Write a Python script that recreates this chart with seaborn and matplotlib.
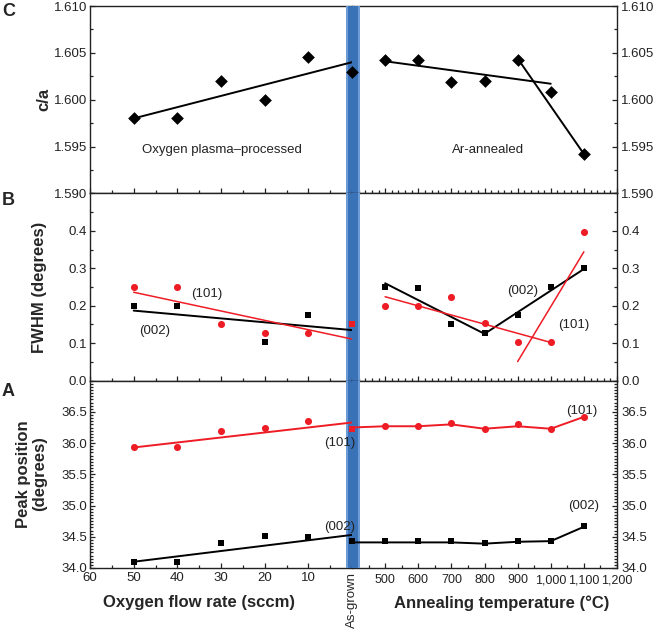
import matplotlib
matplotlib.use("Agg")
import matplotlib.pyplot as plt
from matplotlib.ticker import MultipleLocator, FuncFormatter
import seaborn as sns

# x values
flow = [50, 40, 30, 20, 10]
temp = [500, 600, 700, 800, 900, 1000, 1100]
asgrown_t = [400]   # as-grown sample sits at the junction of both scales

# panel C: c/a
ca_flow = [1.5980, 1.5980, 1.6020, 1.6000, 1.6046]
ca_temp = [1.6042, 1.6042, 1.6019, 1.6020, 1.6042, 1.6008, 1.5942]
ca_asgrown = [1.6030]
ca_fit_flow_x, ca_fit_flow_y = [50, 0], [1.5980, 1.6040]
ca_fit_t1_x, ca_fit_t1_y = [500, 1000], [1.6041, 1.6017]
ca_fit_t2_x, ca_fit_t2_y = [900, 1100], [1.6044, 1.5942]

# panel B: FWHM
fw002_flow_x = [50, 40, 20, 10]
fw002_flow = [0.200, 0.200, 0.102, 0.175]
fw101_flow = [0.250, 0.250, 0.150, 0.128, 0.128]
fw002_temp = [0.249, 0.246, 0.150, 0.126, 0.175, 0.251, 0.300]
fw101_temp = [0.200, 0.200, 0.224, 0.153, 0.102, 0.102, 0.398]
fw101_asgrown = [0.150]
fw002_fit_flow_x, fw002_fit_flow_y = [50, 0], [0.187, 0.135]
fw101_fit_flow_x, fw101_fit_flow_y = [50, 0], [0.236, 0.111]
fw002_fit_t_x, fw002_fit_t_y = [500, 800, 1100], [0.260, 0.125, 0.298]
fw101_fit_t1_x, fw101_fit_t1_y = [500, 1000], [0.224, 0.102]
fw101_fit_t2_x, fw101_fit_t2_y = [900, 1100], [0.051, 0.344]

# panel A: peak position
pk101_flow = [35.94, 35.94, 36.20, 36.24, 36.35]
pk002_flow = [34.09, 34.09, 34.40, 34.51, 34.49]
pk101_temp = [36.27, 36.27, 36.32, 36.22, 36.30, 36.22, 36.42]
pk002_temp = [34.43, 34.43, 34.43, 34.40, 34.44, 34.43, 34.67]
pk101_asgrown = [36.22]
pk002_asgrown = [34.43]
pk101_fit_flow_x, pk101_fit_flow_y = [50, 0], [35.93, 36.33]
pk002_fit_flow_x, pk002_fit_flow_y = [50, 0], [34.10, 34.53]
pk101_curve_x = [400, 500, 600, 700, 800, 900, 1000, 1100]
pk101_curve_y = [36.25, 36.27, 36.27, 36.30, 36.23, 36.27, 36.23, 36.42]
pk002_curve_x = [400, 500, 600, 700, 800, 900, 1000, 1100]
pk002_curve_y = [34.41, 34.41, 34.41, 34.41, 34.39, 34.42, 34.43, 34.66]

RED = "#ee1c25"

sns.set_style("ticks")
plt.rcParams['font.family'] = ['Liberation Sans', 'DejaVu Sans']
plt.rcParams['axes.linewidth'] = 1.0

fig = plt.figure(figsize=(6.54, 6.3), dpi=100)
gs = fig.add_gridspec(3, 2, left=90/654, right=617/654, top=1-6/630, bottom=1-568/630,
                      hspace=0, wspace=0, width_ratios=[262, 265])

rows = []
for r in range(3):
    axL = fig.add_subplot(gs[r, 0])
    axR = fig.add_subplot(gs[r, 1], sharey=axL)
    rows.append((axL, axR))

ylims = [(1.590, 1.610), (0.0, 0.5), (34.0, 37.0)]
yticks = [[1.590, 1.595, 1.600, 1.605, 1.610],
          [0.0, 0.1, 0.2, 0.3, 0.4],
          [34.0, 34.5, 35.0, 35.5, 36.0, 36.5]]
yminor = [0.0025, 0.05, 0.05]
yfmt = ["{:.3f}", "{:.1f}", "{:.1f}"]

for r, (axL, axR) in enumerate(rows):
    axL.set_ylim(*ylims[r])
    axL.set_yticks(yticks[r])
    axL.yaxis.set_minor_locator(MultipleLocator(yminor[r]))
    axL.yaxis.set_major_formatter(FuncFormatter(lambda v, p, f=yfmt[r]: f.format(v)))
    axL.set_xlim(60, 0)
    axL.set_xticks([60, 50, 40, 30, 20, 10])
    axL.xaxis.set_minor_locator(MultipleLocator(5))
    axR.set_xlim(400, 1200)
    axR.set_xticks([500, 600, 700, 800, 900, 1000, 1100, 1200])
    axR.xaxis.set_minor_locator(MultipleLocator(50 if r == 2 else 20))
    axR.xaxis.set_major_formatter(FuncFormatter(lambda v, p: f"{v:,.0f}"))
    axL.spines['right'].set_visible(False)
    axR.spines['left'].set_visible(False)
    for ax in (axL, axR):
        ax.tick_params(which='both', direction='in', top=False, bottom=True,
                       labelsize=9.5, width=0.9, colors='#222222')
        ax.tick_params(which='major', length=3.5)
        ax.tick_params(which='minor', length=2)
        ax.tick_params(axis='x', labelbottom=(r == 2), pad=3)
        for s in ax.spines.values():
            s.set_color('#222222')
    axR.tick_params(axis='x', labelsize=9, pad=4.5)
    axL.tick_params(axis='y', which='both', left=True, right=False, labelleft=True, pad=2)
    axR.tick_params(axis='y', which='both', left=False, right=True,
                    labelleft=False, labelright=True, pad=3)
    axL.set_xlabel("")
    axR.set_xlabel("")
    # "As-grown" band
    axL.axvspan(0, 1.4, color="#6d9bd6", lw=0, zorder=3)
    axL.axvspan(0, 0.95, color="#3a72b8", lw=0, zorder=3)
    axR.axvspan(400, 424, color="#6d9bd6", lw=0, zorder=3)
    axR.axvspan(400, 418, color="#3a72b8", lw=0, zorder=3)

def line(ax, x, y, c, lw=1.4):
    sns.lineplot(x=x, y=y, ax=ax, color=c, lw=lw, sort=False, estimator=None,
                 zorder=4, clip_on=False)

def pts(ax, x, y, c, m, s):
    sns.scatterplot(x=x, y=y, ax=ax, color=c, marker=m, s=s, linewidth=0,
                    zorder=5, clip_on=False)

txt = dict(fontsize=9.5, color='#222222', ha='center', va='center', zorder=6)

# panel C
axL, axR = rows[0]
line(axL, ca_fit_flow_x, ca_fit_flow_y, 'k')
line(axR, ca_fit_t1_x, ca_fit_t1_y, 'k')
line(axR, ca_fit_t2_x, ca_fit_t2_y, 'k')
pts(axL, flow, ca_flow, 'k', 'D', 42)
pts(axR, temp, ca_temp, 'k', 'D', 42)
pts(axR, asgrown_t, ca_asgrown, 'k', 'D', 42)
axL.text(29.7, 1.5946, "Oxygen plasma\u2013processed", **txt)
axR.text(811, 1.5946, "Ar-annealed", **txt)

# panel B
axL, axR = rows[1]
line(axL, fw002_fit_flow_x, fw002_fit_flow_y, 'k')
line(axL, fw101_fit_flow_x, fw101_fit_flow_y, RED, 1.1)
line(axR, fw002_fit_t_x, fw002_fit_t_y, 'k')
line(axR, fw101_fit_t1_x, fw101_fit_t1_y, RED, 1.1)
line(axR, fw101_fit_t2_x, fw101_fit_t2_y, RED, 1.1)
pts(axL, fw002_flow_x, fw002_flow, 'k', 's', 16)
pts(axL, flow, fw101_flow, RED, 'o', 26)
pts(axR, temp, fw002_temp, 'k', 's', 16)
pts(axR, temp, fw101_temp, RED, 'o', 26)
pts(axR, asgrown_t, fw101_asgrown, RED, 's', 22)
axL.text(33.2, 0.231, "(101)", **txt)
axL.text(45.1, 0.133, "(002)", **txt)
axR.text(916, 0.239, "(002)", **txt)
axR.text(1068, 0.148, "(101)", **txt)

# panel A
axL, axR = rows[2]
line(axL, pk101_fit_flow_x, pk101_fit_flow_y, RED)
line(axL, pk002_fit_flow_x, pk002_fit_flow_y, 'k')
line(axR, pk101_curve_x, pk101_curve_y, RED)
line(axR, pk002_curve_x, pk002_curve_y, 'k')
pts(axL, flow, pk101_flow, RED, 'o', 26)
pts(axL, flow, pk002_flow, 'k', 's', 16)
pts(axR, temp, pk101_temp, RED, 'o', 26)
pts(axR, temp, pk002_temp, 'k', 's', 16)
pts(axR, asgrown_t, pk101_asgrown, RED, 's', 22)
pts(axR, asgrown_t, pk002_asgrown, 'k', 's', 16)
# labels near the as-grown band are drawn from the right axes so they sit over the band
axR.text(364, 36.0, "(101)", **txt)
axR.text(364, 34.66, "(002)", **txt)
axR.text(1094, 36.52, "(101)", **txt)
axR.text(1098, 35.0, "(002)", **txt)

# labels
for letter, ytop in [("C", 3), ("B", 192), ("A", 383)]:
    fig.text(2/654, 1-ytop/630, letter, fontsize=13, fontweight='bold', va='top', ha='left')
lab = dict(fontsize=12, fontweight='bold', rotation=90, ha='center', va='center')
fig.text(44/654, 1-99.5/630, "c/a", **lab)
fig.text(40/654, 1-287/630, "FWHM (degrees)", **lab)
fig.text(32/654, 1-474/630, "Peak position\n(degrees)", linespacing=1.1, **lab)
fig.text(199/654, 1-603/630, "Oxygen flow rate (sccm)", fontsize=12, fontweight='bold',
         ha='center', va='center')
fig.text(502/654, 1-603/630, "Annealing temperature (\u00b0C)", fontsize=12, fontweight='bold',
         ha='center', va='center')
fig.text(352/654, 1-572/630, "As-grown", fontsize=9.5, rotation=90, ha='center', va='top')

fig.savefig("out.png", dpi=100)
